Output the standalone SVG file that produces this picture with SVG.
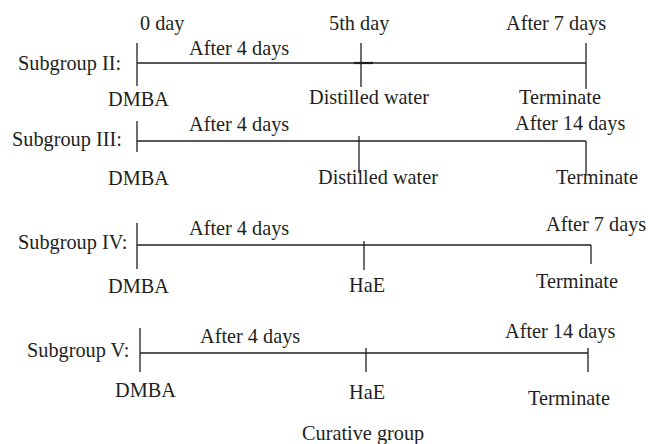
<svg xmlns="http://www.w3.org/2000/svg" width="648" height="444" viewBox="0 0 648 444">
<style>
text{font-family:"Liberation Serif","Times New Roman",serif;font-size:20.3px;fill:#231f20}
.ln{stroke:#231f20;stroke-width:1.3;fill:none}
</style>
<rect width="648" height="444" fill="#fff"/>
<g id="connectors">
<g id="tl2">
<line class="ln" x1="137" y1="63" x2="586" y2="63"/>
<line class="ln" x1="137" y1="43" x2="137" y2="86"/>
<line class="ln" x1="361" y1="43" x2="361" y2="87"/>
<line class="ln" x1="586" y1="43" x2="586" y2="89"/>
<line x1="354" y1="63" x2="373" y2="63" stroke="#231f20" stroke-width="2.2"/>
</g>
<g id="tl3">
<line class="ln" x1="137" y1="141" x2="586" y2="141"/>
<line class="ln" x1="137" y1="121" x2="137" y2="152"/>
<line class="ln" x1="359" y1="136" x2="359" y2="173"/>
<line class="ln" x1="586" y1="141" x2="586" y2="174"/>
</g>
<g id="tl4">
<line class="ln" x1="137" y1="245" x2="591" y2="245"/>
<line class="ln" x1="137" y1="223" x2="137" y2="269"/>
<line class="ln" x1="364" y1="241" x2="364" y2="270"/>
<line class="ln" x1="591" y1="245" x2="591" y2="264"/>
</g>
<g id="tl5">
<line class="ln" x1="140" y1="353" x2="588" y2="353"/>
<line class="ln" x1="140" y1="328" x2="140" y2="372"/>
<line class="ln" x1="366" y1="348" x2="366" y2="372"/>
<line class="ln" x1="588" y1="348" x2="588" y2="372"/>
</g>
</g>
<g id="subgroup2">
<text x="18" y="70">Subgroup II:</text>
<text x="140" y="30">0 day</text>
<text x="329" y="30">5th day</text>
<text x="506" y="30">After 7 days</text>
<text x="189" y="55">After 4 days</text>
<text x="108" y="106">DMBA</text>
<text x="309" y="104">Distilled water</text>
<text x="519" y="104">Terminate</text>
</g>
<g id="subgroup3">
<text x="12" y="146">Subgroup III:</text>
<text x="189" y="131">After 4 days</text>
<text x="515" y="130">After 14 days</text>
<text x="108" y="185">DMBA</text>
<text x="318" y="184">Distilled water</text>
<text x="556" y="184">Terminate</text>
</g>
<g id="subgroup4">
<text x="18" y="249">Subgroup IV:</text>
<text x="189" y="235">After 4 days</text>
<text x="546" y="231">After 7 days</text>
<text x="108" y="293">DMBA</text>
<text x="349" y="292">HaE</text>
<text x="536" y="288">Terminate</text>
</g>
<g id="subgroup5">
<text x="27" y="357">Subgroup V:</text>
<text x="200" y="343">After 4 days</text>
<text x="505" y="338">After 14 days</text>
<text x="115" y="397">DMBA</text>
<text x="349" y="399">HaE</text>
<text x="528" y="405">Terminate</text>
</g>
<g id="caption">
<text x="302" y="440">Curative group</text>
</g>
</svg>
